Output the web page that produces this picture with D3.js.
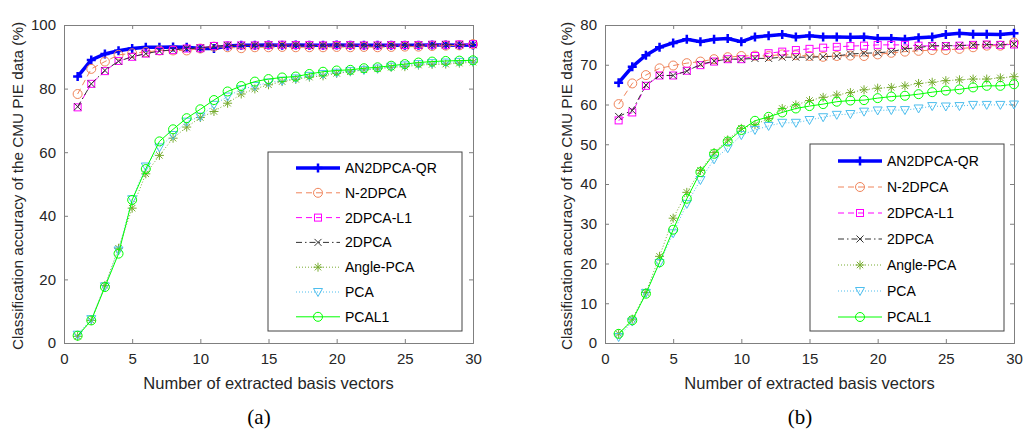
<!DOCTYPE html>
<html>
<head>
<meta charset="utf-8">
<script src="https://cdn.jsdelivr.net/npm/d3@7"></script>
<style>
  body { margin: 0; background: #fff; }
  svg { font-family: "Liberation Sans", Arial, sans-serif; }
</style>
</head>
<body>
<svg id="chart" width="1024" height="431"></svg>
<script>
const xs = d3.range(1, 31);
const seriesNames = ['AN2DPCA-QR', 'N-2DPCA', '2DPCA-L1', '2DPCA', 'Angle-PCA', 'PCA', 'PCAL1'];

// panel (a)
const aQR = [83.8, 89, 90.9, 91.9, 92.6, 93, 93, 93.1, 93, 92.6, 92.6, 93.4, 93.6, 93.6, 93.7, 93.6, 93.7, 93.6, 93.6, 93.7, 93.6, 93.6, 93.6, 93.6, 93.6, 93.6, 93.7, 93.7, 93.6, 93.7];
const aN2D = [78.3, 86.2, 88.5, 90.6, 91.1, 91.5, 92, 92, 92, 92.6, 93.2, 93, 92.7, 93, 93, 93.1, 93, 93, 93, 93.1, 93, 93.1, 93, 93.1, 93.2, 93.2, 93.4, 93.5, 93.6, 94];
const aL1 = [74.1, 81.5, 85.5, 88.7, 90, 91, 91.8, 92.1, 92.6, 92.7, 93.4, 93.6, 93.6, 93.6, 93.7, 93.8, 93.7, 93.7, 93.6, 93.7, 93.7, 93.6, 93.6, 93.7, 93.7, 93.7, 93.8, 93.8, 93.9, 94];
const a2D = [74.3, 81.5, 85.7, 88.6, 90, 91, 91.8, 92.2, 92.6, 92.8, 93.3, 93.6, 93.6, 93.6, 93.7, 93.7, 93.7, 93.6, 93.6, 93.7, 93.7, 93.6, 93.6, 93.7, 93.7, 93.7, 93.8, 93.8, 93.8, 93.8];
const aAngle = [2.1, 7.1, 18.1, 29.8, 42.4, 53.2, 59, 64.4, 67.9, 70.9, 72.8, 75.4, 78.3, 79.9, 81.2, 82.2, 82.9, 83.6, 84, 84.8, 85.3, 85.9, 86.2, 86.7, 86.9, 87.4, 87.6, 87.7, 88, 88.3];
const aPCA = [2.6, 7.5, 17.8, 29.1, 45.2, 55.5, 61.5, 65.4, 69.6, 71.2, 74.9, 77.5, 79.8, 80.8, 81.9, 82.5, 83.2, 84, 84.6, 85, 85.5, 85.9, 86.3, 86.9, 87.3, 87.7, 88, 88.2, 88.4, 88.6];
const aPCAL1 = [2.3, 7.1, 17.6, 28.1, 45, 54.7, 63.4, 67.2, 70.7, 73.5, 76.4, 79.1, 80.8, 82.2, 83, 83.5, 83.8, 84.6, 85.3, 85.7, 85.9, 86.4, 86.7, 87.2, 87.7, 88.2, 88.5, 88.7, 88.8, 88.9];

// panel (b)
const bQR = [65.5, 69.5, 72.4, 74.4, 75.5, 76.4, 75.8, 76.4, 76.6, 75.8, 77, 77.3, 77.6, 77, 77.3, 77, 77, 76.9, 77, 76.6, 76.6, 76.4, 76.8, 77, 77.6, 77.9, 77.7, 77.7, 77.6, 77.9];
const bN2D = [60.1, 65.3, 67.4, 69.1, 69.8, 70.4, 70.8, 71.4, 71.9, 72.2, 72.3, 72.2, 72.6, 72.4, 72.2, 72, 72.2, 72.3, 72.2, 72.6, 73, 73.3, 73.5, 73.7, 73.7, 74, 74.4, 74.8, 74.8, 75.6];
const bL1 = [56, 58, 64.7, 67.3, 67.3, 68.5, 69.9, 70.8, 71.4, 71.4, 72.2, 72.9, 73.3, 73.7, 74, 74.3, 74.5, 74.7, 74.8, 75, 75, 75, 74.8, 74.7, 74.7, 74.8, 75, 75.1, 75, 75.1];
const b2D = [57, 58.5, 64.9, 67.3, 67.3, 68.4, 70.1, 70.9, 71.4, 71.4, 71.6, 71.6, 71.9, 71.9, 71.9, 72, 72.2, 72.7, 72.9, 73, 73.3, 74, 74.3, 74.8, 74.8, 74.8, 75, 75.1, 75, 75.2];
const bAngle = [2.3, 6, 12.7, 21.8, 31.4, 37.9, 43.4, 47.9, 51.1, 54, 54.9, 56.5, 59, 59.9, 61, 61.8, 62.4, 63, 63.7, 64.1, 64.3, 64.7, 65.3, 65.6, 66, 66.2, 66.4, 66.4, 66.7, 67];
const bPCA = [1.5, 5.4, 12.6, 20.1, 27.6, 35, 41, 46.2, 49, 52.3, 53.6, 54.6, 55.4, 55.4, 56.1, 56.8, 57.4, 57.6, 58.2, 58.5, 58.6, 58.6, 59, 59.6, 59.5, 59.6, 59.9, 59.9, 59.9, 60];
const bPCAL1 = [2.3, 5.7, 12.4, 20.3, 28.5, 36.3, 43, 47.6, 50.7, 53.6, 55.9, 56.9, 58, 59, 59.6, 60.1, 60.7, 61, 61.1, 61.6, 62, 62.2, 62.6, 63.1, 63.5, 63.8, 64.3, 64.7, 64.7, 65.1];

const xTicks = [0, 5, 10, 15, 20, 25, 30];
const aYTicks = [0, 20, 40, 60, 80, 100];
const bYTicks = [0, 10, 20, 30, 40, 50, 60, 70, 80];

// line styles per series (same order as seriesNames)
const styles = [
  { color: '#0000ff', width: 3.5, dash: null, marker: 'plus' },
  { color: '#f0845a', width: 1, dash: '6,4', marker: 'circle' },
  { color: '#ff00ff', width: 1, dash: '6,4', marker: 'square' },
  { color: '#333333', width: 1, dash: '6,3,1.5,3', marker: 'x' },
  { color: '#77ac30', width: 1, dash: '1,2', marker: 'star' },
  { color: '#4dbeee', width: 1, dash: '1,2', marker: 'tri' },
  { color: '#00ff00', width: 1, dash: null, marker: 'circle' }
];

const svg = d3.select('#chart');

function drawMarker(g, type, color, x, y) {
  if (type === 'circle') {
    g.append('circle').attr('cx', x).attr('cy', y).attr('r', 4.5)
      .attr('fill', 'none').attr('stroke', color).attr('stroke-width', 1);
  } else if (type === 'square') {
    g.append('rect').attr('x', x - 3.5).attr('y', y - 3.5).attr('width', 7).attr('height', 7)
      .attr('fill', 'none').attr('stroke', color).attr('stroke-width', 1);
  } else if (type === 'tri') {
    g.append('path').attr('d', `M${x - 4.5},${y - 3.5}L${x + 4.5},${y - 3.5}L${x},${y + 4.5}Z`)
      .attr('fill', 'none').attr('stroke', color).attr('stroke-width', 1);
  } else if (type === 'plus') {
    g.append('path').attr('d', `M${x - 4.5},${y}L${x + 4.5},${y}M${x},${y - 4.5}L${x},${y + 4.5}`)
      .attr('stroke', color).attr('stroke-width', 2.5);
  } else if (type === 'x') {
    g.append('path').attr('d', `M${x - 3.5},${y - 3.5}L${x + 3.5},${y + 3.5}M${x - 3.5},${y + 3.5}L${x + 3.5},${y - 3.5}`)
      .attr('stroke', color).attr('stroke-width', 1);
  } else if (type === 'star') {
    g.append('path').attr('d', `M${x - 4.5},${y}L${x + 4.5},${y}M${x},${y - 4.5}L${x},${y + 4.5}M${x - 3.2},${y - 3.2}L${x + 3.2},${y + 3.2}M${x - 3.2},${y + 3.2}L${x + 3.2},${y - 3.2}`)
      .attr('stroke', color).attr('stroke-width', 1);
  }
}

function drawPanel(opt) {
  const g = svg.append('g');
  const x = d3.scaleLinear().domain([0, 30]).range([opt.left, opt.right]);
  const y = d3.scaleLinear().domain([0, opt.ymax]).range([opt.bottom, opt.top]);

  // axes with inward ticks
  const axB = g.append('g').attr('transform', `translate(0,${opt.bottom})`)
    .call(d3.axisBottom(x).tickValues(xTicks).tickSize(-4).tickPadding(10));
  const axL = g.append('g').attr('transform', `translate(${opt.left},0)`)
    .call(d3.axisLeft(y).tickValues(opt.yTicks).tickSize(-4).tickPadding(8));
  const axT = g.append('g').attr('transform', `translate(0,${opt.top})`)
    .call(d3.axisTop(x).tickValues(xTicks).tickSize(-4).tickFormat(''));
  const axR = g.append('g').attr('transform', `translate(${opt.right},0)`)
    .call(d3.axisRight(y).tickValues(opt.yTicks).tickSize(-4).tickFormat(''));
  [axB, axL, axT, axR].forEach(a => {
    a.select('.domain').attr('stroke', '#7f7f7f');
    a.selectAll('.tick line').attr('stroke', '#7f7f7f');
    a.selectAll('.tick text').attr('fill', '#262626').style('font-size', '15px');
  });

  const line = d3.line().x((d, i) => x(xs[i])).y(d => y(d));
  opt.series.forEach((vals, k) => {
    const s = styles[k];
    const sg = g.append('g');
    sg.append('path').datum(vals).attr('d', line)
      .attr('fill', 'none').attr('stroke', s.color).attr('stroke-width', s.width)
      .attr('stroke-dasharray', s.dash);
    vals.forEach((v, i) => drawMarker(sg, s.marker, s.color, x(xs[i]), y(v)));
  });

  // legend
  const lg = g.append('g');
  lg.append('rect').attr('x', opt.leg.x).attr('y', opt.leg.y).attr('width', opt.leg.w).attr('height', opt.leg.h)
    .attr('fill', '#fff').attr('stroke', '#444').attr('stroke-width', 1);
  seriesNames.forEach((name, k) => {
    const s = styles[k];
    const ry = opt.leg.row0 + k * opt.leg.step;
    const lx0 = opt.leg.x + 28, lx1 = lx0 + 44;
    lg.append('line').attr('x1', lx0).attr('x2', lx1).attr('y1', ry).attr('y2', ry)
      .attr('stroke', s.color).attr('stroke-width', s.width).attr('stroke-dasharray', s.dash);
    drawMarker(lg, s.marker, s.color, (lx0 + lx1) / 2, ry);
    lg.append('text').attr('x', lx1 + 5).attr('y', ry).attr('dy', '0.35em')
      .style('font-size', '14px').attr('fill', '#000').text(name);
  });

  // axis labels
  g.append('text').attr('x', (opt.left + opt.right) / 2).attr('y', opt.bottom + 46)
    .attr('text-anchor', 'middle').style('font-size', '16.5px').attr('fill', '#262626')
    .text('Number of extracted basis vectors');
  g.append('text')
    .attr('transform', `translate(${opt.left - opt.ylabOff},${(opt.top + opt.bottom) / 2 + 2}) rotate(-90)`)
    .attr('text-anchor', 'middle').style('font-size', '15.3px').attr('fill', '#262626')
    .text('Classification accuracy of the CMU PIE data (%)');
  g.append('text').attr('x', opt.capX).attr('y', 424)
    .attr('text-anchor', 'middle').style('font-family', '"Liberation Serif", "Times New Roman", serif')
    .style('font-size', '21px').text(opt.caption);
}

drawPanel({
  left: 64, right: 473, top: 25, bottom: 343, ymax: 100, yTicks: aYTicks,
  series: [aQR, aN2D, aL1, a2D, aAngle, aPCA, aPCAL1],
  leg: { x: 268, y: 152, w: 194, h: 179, row0: 168, step: 24.8 },
  ylabOff: 41, capX: 259, caption: '(a)'
});

drawPanel({
  left: 605, right: 1014, top: 25, bottom: 343, ymax: 80, yTicks: bYTicks,
  series: [bQR, bN2D, bL1, b2D, bAngle, bPCA, bPCAL1],
  leg: { x: 810, y: 144, w: 194, h: 187, row0: 161, step: 26 },
  ylabOff: 33, capX: 800, caption: '(b)'
});
</script>
</body>
</html>
